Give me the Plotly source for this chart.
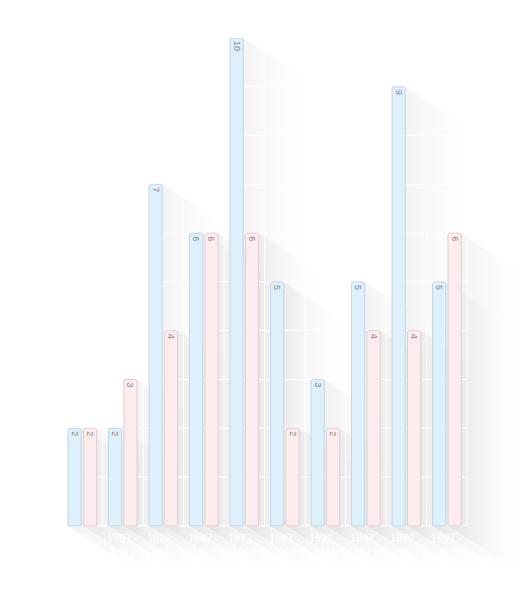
import plotly.graph_objects as go

# 25-year periods (x categories) and the two series
periods = ["1772 - 1796", "1797 - 1821", "1822 - 1846", "1847 - 1871", "1872 - 1896",
           "1897 - 1921", "1922 - 1946", "1947 - 1971", "1972 - 1996", "1997 - 2021"]
blue_vals = [2, 2, 7, 6, 10, 5, 3, 5, 9, 5]
pink_vals = [2, 3, 4, 6, 6, 2, 2, 4, 4, 6]

BLUE_FILL, BLUE_LINE = "#DEF0FC", "#C3D6E4"
PINK_FILL, PINK_LINE = "#FDECEE", "#E3CDD0"

OFF = 0.19       # bar offset from group centre
BW = 0.325       # bar width
SDX, SDY = 1.6, 0.85   # long-shadow offset (x units, value units)

XR = [-0.5, 11.2]
YR = [-1.5, 10]

fig = go.Figure()

# long shadows, drawn on the bottom subplot
for i in range(len(periods)):
	for xc, v in ((i - OFF, blue_vals[i]), (i + OFF, pink_vals[i])):
		xl, xr = xc - BW / 2, xc + BW / 2
		fig.add_trace(go.Scatter(
			x=[xl, xr, xr + SDX, xr + SDX, xl + SDX, xl, xl],
			y=[v, v, v - SDY, -SDY, -SDY, 0, v],
			mode="lines", line=dict(width=0), fill="toself",
			fillgradient=dict(type="horizontal",
							  colorscale=[[0, "rgba(0,0,0,0.06)"], [0.3, "rgba(0,0,0,0.035)"], [0.75, "rgba(0,0,0,0.008)"], [1, "rgba(0,0,0,0)"]]),
			hoverinfo="skip", showlegend=False,
		))

# white grid over the shadows
gx, gy = [], []
for k in range(len(periods) + 1):
	gx += [k - 0.5, k - 0.5, None]
	gy += [0, 10, None]
for k in range(0, 11):
	gx += [-0.5, len(periods) - 0.5, None]
	gy += [k, k, None]
fig.add_trace(go.Scatter(x=gx, y=gy, mode="lines", line=dict(color="white", width=1),
						 hoverinfo="skip", showlegend=False))

# bars on the overlaying subplot so they sit above the shadows
for vals, off, fill, edge in ((blue_vals, -OFF, BLUE_FILL, BLUE_LINE), (pink_vals, OFF, PINK_FILL, PINK_LINE)):
	fig.add_trace(go.Bar(
		x=[i + off for i in range(len(periods))], y=vals, width=BW,
		marker=dict(color=fill, line=dict(color=edge, width=1), cornerradius=2),
		text=[str(v) for v in vals], textposition="inside", insidetextanchor="end",
		textangle=90, constraintext="none",
		textfont=dict(family="Arial, Liberation Sans, sans-serif", size=9, color="#858585"),
		xaxis="x2", yaxis="y2", showlegend=False,
	))

# period labels (white, as in the original)
for i, p in enumerate(periods):
	a, b = p.split(" - ")
	fig.add_annotation(x=i, y=0, xref="x", yref="y", text=a + " -<br>" + b, showarrow=False,
					   yanchor="top", yshift=-4, font=dict(color="white", size=11,
					   family="Arial, Liberation Sans, sans-serif"))

axis_common = dict(showgrid=False, zeroline=False, showticklabels=False, showline=False, ticks="")
fig.update_layout(
	width=530, height=601,
	margin=dict(l=54, r=2, t=30, b=10),
	paper_bgcolor="white", plot_bgcolor="white",
	barmode="overlay",
	xaxis=dict(range=XR, **axis_common),
	yaxis=dict(range=YR, **axis_common),
	xaxis2=dict(range=XR, overlaying="x", anchor="y2", **axis_common),
	yaxis2=dict(range=YR, overlaying="y", anchor="x2", **axis_common),
	showlegend=False,
)

fig.write_html("out.html")
